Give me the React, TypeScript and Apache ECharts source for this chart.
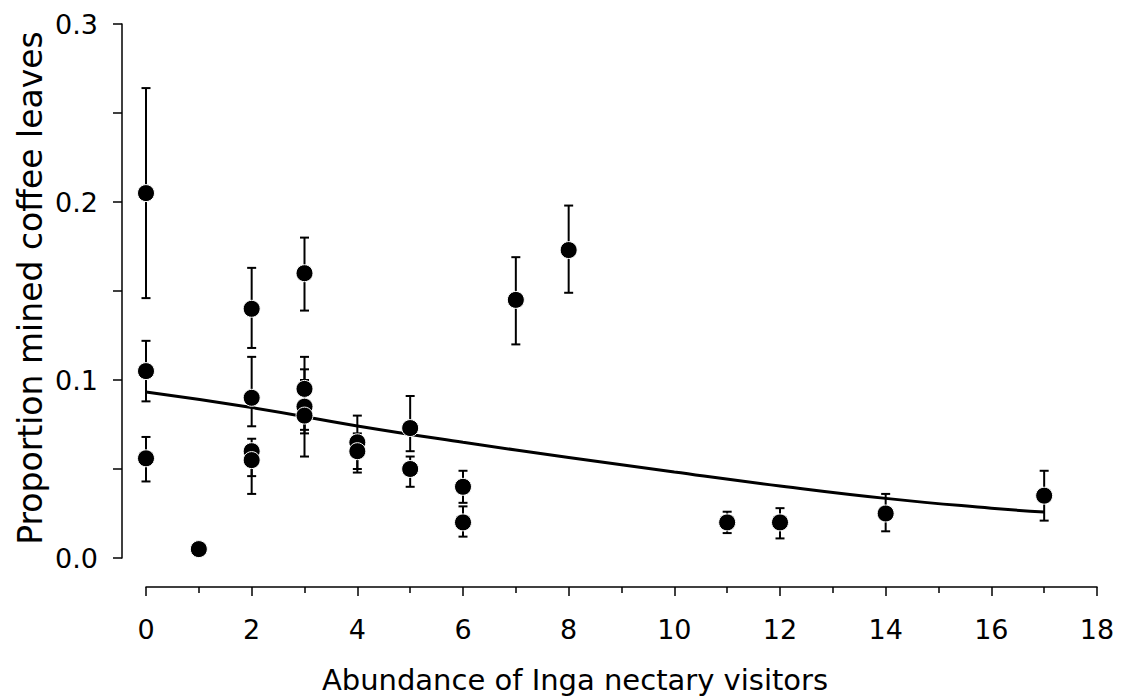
import React, { useEffect, useRef } from "react";
import * as echarts from "echarts";

// Observations: x = abundance of Inga nectary visitors, y = proportion mined leaves
const xValues = [0, 0, 0, 1, 2, 2, 2, 2, 3, 3, 3, 3, 4, 4, 5, 5, 6, 6, 7, 8, 11, 12, 14, 17];
const yMeans = [0.205, 0.105, 0.056, 0.005, 0.14, 0.09, 0.06, 0.055, 0.16, 0.095, 0.085, 0.08, 0.065, 0.06, 0.073, 0.05, 0.04, 0.02, 0.145, 0.173, 0.02, 0.02, 0.025, 0.035];
const yLower = [0.146, 0.088, 0.043, 0.005, 0.118, 0.074, 0.046, 0.036, 0.139, 0.072, 0.07, 0.057, 0.05, 0.048, 0.06, 0.04, 0.031, 0.012, 0.12, 0.149, 0.014, 0.011, 0.015, 0.021];
const yUpper = [0.264, 0.122, 0.068, 0.005, 0.163, 0.113, 0.067, 0.062, 0.18, 0.113, 0.106, 0.1, 0.08, 0.07, 0.091, 0.057, 0.049, 0.029, 0.169, 0.198, 0.026, 0.028, 0.036, 0.049];

// Fitted curve
const curveX = [0, 2, 4, 6, 8, 10, 12, 14, 16, 17];
const curveY = [0.0932, 0.0845, 0.0742, 0.065, 0.0565, 0.0483, 0.0405, 0.0335, 0.028, 0.0258];

const xTicks = { min: 0, max: 18, interval: 2 };
const yTicks = { min: 0, max: 0.3, interval: 0.05 };

const xTitle = "Abundance of Inga nectary visitors";
const yTitle = "Proportion mined coffee leaves";

const FONT = "DejaVu Sans";

export default function App() {
  const ref = useRef<HTMLDivElement>(null);
  useEffect(() => {
    document.body.style.margin = "0";
    if (!ref.current) return;
    const chart = echarts.init(ref.current, undefined, { renderer: "svg" });
    const points = xValues.map((x, i) => [x, yMeans[i]]);
    const bars = xValues.map((x, i) => [x, yLower[i], yUpper[i]]);
    const curve = curveX.map((x, i) => [x, curveY[i]]);
    const axisStyle = { color: "#000", width: 1.5 };
    chart.setOption({
      animation: false,
      backgroundColor: "#fff",
      grid: { left: 146, right: 27, top: 24, bottom: 139, containLabel: false },
      xAxis: {
        type: "value",
        min: xTicks.min,
        max: xTicks.max,
        interval: xTicks.interval,
        offset: 29,
        axisLine: { show: true, onZero: false, lineStyle: axisStyle },
        axisTick: { show: true, length: 9, lineStyle: axisStyle },
        minorTick: { show: true, splitNumber: 2, length: 6, lineStyle: axisStyle },
        splitLine: { show: false },
        minorSplitLine: { show: false },
        axisLabel: { color: "#000", fontFamily: FONT, fontSize: 27, margin: 29 },
      },
      yAxis: {
        type: "value",
        min: yTicks.min,
        max: yTicks.max,
        interval: yTicks.interval,
        offset: 24,
        axisLine: { show: true, onZero: false, lineStyle: axisStyle },
        axisTick: { show: true, length: 9, lineStyle: axisStyle },
        splitLine: { show: false },
        axisLabel: {
          color: "#000",
          fontFamily: FONT,
          fontSize: 27,
          margin: 24,
          formatter: (v: number) => (Math.round(v * 100) % 10 === 0 ? v.toFixed(1) : ""),
        },
      },
      graphic: [
        {
          type: "text",
          x: 575,
          y: 680,
          style: { text: xTitle, fill: "#000", font: `29px "${FONT}"`, textAlign: "center", textVerticalAlign: "middle" },
        },
        {
          type: "text",
          x: 30,
          y: 288,
          rotation: Math.PI / 2,
          style: { text: yTitle, fill: "#000", font: `33px "${FONT}"`, textAlign: "center", textVerticalAlign: "middle" },
        },
      ],
      series: [
        {
          type: "line",
          data: curve,
          smooth: true,
          showSymbol: false,
          lineStyle: { color: "#000", width: 3 },
          z: 1,
        },
        {
          type: "custom",
          data: bars,
          encode: { x: 0, y: [1, 2] },
          z: 2,
          renderItem: (params: any, api: any) => {
            const x = api.value(0);
            const pLo = api.coord([x, api.value(1)]);
            const pHi = api.coord([x, api.value(2)]);
            const w = 4.5;
            const st = { stroke: "#000", lineWidth: 2 };
            return {
              type: "group",
              children: [
                { type: "line", shape: { x1: pHi[0], y1: pHi[1], x2: pLo[0], y2: pLo[1] }, style: st },
                { type: "line", shape: { x1: pHi[0] - w, y1: pHi[1], x2: pHi[0] + w, y2: pHi[1] }, style: st },
                { type: "line", shape: { x1: pLo[0] - w, y1: pLo[1], x2: pLo[0] + w, y2: pLo[1] }, style: st },
              ],
            };
          },
        },
        {
          type: "scatter",
          data: points,
          symbol: "circle",
          symbolSize: 17,
          itemStyle: { color: "#000", opacity: 1, borderColor: "#fff", borderWidth: 1 },
          z: 3,
        },
      ],
    });
    return () => chart.dispose();
  }, []);
  return <div ref={ref} style={{ width: 1124, height: 697 }} />;
}
